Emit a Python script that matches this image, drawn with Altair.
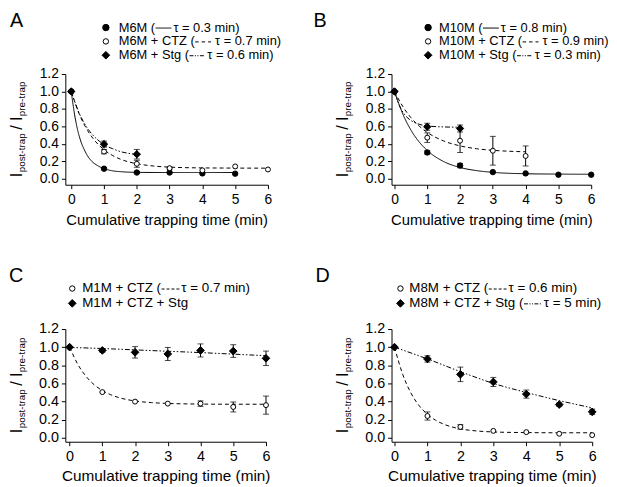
import altair as alt
import pandas as pd

FONT = "Liberation Sans"

# ---------------- Panel A ----------------
A_labels = ["M6M", "M6M + CTZ", "M6M + Stg"]
A_pt_x = [[0, 1, 2, 3, 4, 5], [0, 1, 2, 3, 4, 5, 6], [0, 1, 2]]
A_pt_y = [[1.0, 0.114, 0.07, 0.07, 0.06, 0.057], [1.0, 0.31, 0.17, 0.12, 0.095, 0.14, 0.105], [1.0, 0.396, 0.28]]
A_pt_e = [[0, 0.01, 0.01, 0, 0, 0], [0, 0.025, 0.04, 0.01, 0, 0, 0], [0, 0.035, 0.055]]
A_fit_x = [[0, 0.1, 0.2, 0.3, 0.4, 0.5, 0.6, 0.8, 1, 1.25, 1.5, 2, 3, 4, 5],
           [0, 0.25, 0.5, 0.75, 1, 1.25, 1.5, 2, 2.5, 3, 4, 5, 6],
           [0, 0.25, 0.5, 0.75, 1, 1.25, 1.5, 1.75, 2]]
A_fit_y = [[1.0, 0.74, 0.55, 0.42, 0.33, 0.26, 0.21, 0.15, 0.115, 0.09, 0.08, 0.072, 0.07, 0.07, 0.07],
           [1.0, 0.736, 0.551, 0.422, 0.331, 0.268, 0.223, 0.171, 0.145, 0.132, 0.123, 0.121, 0.12],
           [1.0, 0.745, 0.575, 0.465, 0.39, 0.345, 0.31, 0.29, 0.278]]
A_tau = ["τ = 0.3 min)", "τ = 0.7 min)", "τ = 0.6 min)"]

# ---------------- Panel B ----------------
B_labels = ["M10M", "M10M + CTZ", "M10M + Stg"]
B_pt_x = [[0, 1, 2, 3, 4, 5, 6], [0, 1, 2, 3, 4], [0, 1, 2]]
B_pt_y = [[1.0, 0.30, 0.15, 0.075, 0.06, 0.045, 0.045], [1.0, 0.47, 0.435, 0.32, 0.26], [1.0, 0.595, 0.575]]
B_pt_e = [[0, 0.02, 0.025, 0, 0, 0, 0], [0, 0.055, 0.135, 0.165, 0.115], [0, 0.04, 0.04]]
B_fit_x = [[0, 0.25, 0.5, 0.75, 1, 1.5, 2, 2.5, 3, 4, 5, 6],
           [0, 0.25, 0.5, 0.75, 1, 1.5, 2, 2.5, 3, 3.5, 4],
           [0, 0.1, 0.2, 0.3, 0.5, 0.75, 1, 1.5, 2]]
B_fit_y = [[1.0, 0.745, 0.558, 0.422, 0.323, 0.196, 0.128, 0.092, 0.072, 0.056, 0.052, 0.05],
           [1.0, 0.83, 0.70, 0.604, 0.53, 0.432, 0.376, 0.343, 0.325, 0.314, 0.308],
           [1.0, 0.884, 0.80, 0.74, 0.667, 0.624, 0.605, 0.593, 0.59]]
B_tau = ["τ = 0.8 min)", "τ = 0.9 min)", "τ = 0.3 min)"]

# ---------------- Panel C ----------------
C_labels = ["M1M + CTZ", "M1M + CTZ + Stg"]
C_pt_x = [[0, 1, 2, 3, 4, 5, 6], [0, 1, 2, 3, 4, 5, 6]]
C_pt_y = [[1.0, 0.504, 0.399, 0.377, 0.377, 0.34, 0.36], [1.0, 0.964, 0.943, 0.925, 0.964, 0.957, 0.877]]
C_pt_e = [[0, 0, 0, 0, 0.03, 0.055, 0.1], [0, 0.02, 0.063, 0.072, 0.072, 0.07, 0.08]]
C_fit_x = [[0, 0.25, 0.5, 0.75, 1, 1.25, 1.5, 2, 2.5, 3, 4, 5, 6], [0, 1, 2, 3, 4, 5, 6]]
C_fit_y = [[1.0, 0.811, 0.679, 0.586, 0.521, 0.476, 0.444, 0.406, 0.388, 0.379, 0.372, 0.37, 0.37],
           [0.997, 0.985, 0.97, 0.955, 0.94, 0.923, 0.906]]
C_tau = ["τ = 0.7 min)", None]

# ---------------- Panel D ----------------
D_labels = ["M8M + CTZ", "M8M + CTZ + Stg"]
D_pt_x = [[0, 1, 2, 3, 4, 5, 6], [0, 1, 2, 3, 4, 5, 6]]
D_pt_y = [[1.0, 0.24, 0.12, 0.076, 0.062, 0.044, 0.029], [1.0, 0.87, 0.70, 0.616, 0.482, 0.366, 0.286]]
D_pt_e = [[0, 0.045, 0.025, 0, 0, 0, 0], [0, 0.035, 0.08, 0.05, 0.045, 0.02, 0.03]]
D_fit_x = [[0, 0.25, 0.5, 0.75, 1, 1.25, 1.5, 2, 2.5, 3, 4, 5, 6], [0, 1, 2, 3, 4, 5, 6]]
D_fit_y = [[1.0, 0.699, 0.493, 0.353, 0.258, 0.193, 0.149, 0.098, 0.075, 0.064, 0.057, 0.055, 0.055],
           [1.0, 0.87, 0.73, 0.60, 0.50, 0.41, 0.33]]
D_tau = ["τ = 0.6 min)", "τ = 5 min)"]

X_TICKS = [0, 1, 2, 3, 4, 5, 6]
Y_TICKS = [0.0, 0.2, 0.4, 0.6, 0.8, 1.0, 1.2]
X_TITLE = "Cumulative trapping time (min)"

SOLID = [1, 0]
DASH = [4, 3]
DDOT = [5, 2, 1.5, 2, 1.5, 2]
L_DASH3 = [3.5, 3]
L_DASH4 = [3, 2]
L_DDOT = [4, 1.5, 1, 1.5, 1, 1.5]

# Arial / Liberation Sans advance widths (em)
W = {" ": 0.278, "(": 0.333, ")": 0.333, "+": 0.584, "=": 0.584, ".": 0.278, "M": 0.833,
     "C": 0.722, "T": 0.611, "Z": 0.611, "S": 0.667, "t": 0.278, "g": 0.556}


def tw(s, fs):
    return sum(W.get(c, 0.556) for c in s) * fs


def panel(letter, labels, shapes, fills, sizes, dashes, pt_x, pt_y, pt_e, fit_x, fit_y,
          xmin, ymin, width, height, letter_x, tick_font, title_font,
          taus, leg_dash, leg_sizes, sx, tx, rows, leg_font, sample_len, tau_gap):
    pts = pd.DataFrame([
        {"series": labels[i], "x": x, "y": y, "lo": y - e, "hi": y + e, "e": e, "sz": sizes[i]}
        for i in range(len(labels))
        for x, y, e in zip(pt_x[i], pt_y[i], pt_e[i])
    ])
    fits = pd.DataFrame([
        {"series": labels[i], "x": x, "y": y}
        for i in range(len(labels))
        for x, y in zip(fit_x[i], fit_y[i])
    ])
    xs = alt.Scale(domain=[xmin, 6], nice=False, zero=False)
    ys = alt.Scale(domain=[ymin, 1.2], nice=False, zero=False)
    xax = alt.Axis(values=X_TICKS, tickCount=len(X_TICKS), title=X_TITLE, labelFontSize=tick_font,
                   titleFontSize=title_font, labelPadding=4, titlePadding=6, tickSize=4,
                   labelFlush=False, labelOverlap=False)
    yax = alt.Axis(values=Y_TICKS, tickCount=len(Y_TICKS), format=".1f", title=None,
                   labelFontSize=tick_font, labelPadding=3, tickSize=4, labelFlush=False,
                   labelOverlap=False)
    X = alt.X("x:Q", scale=xs, axis=xax)
    Y = alt.Y("y:Q", scale=ys, axis=yax)

    lines = alt.Chart(fits).mark_line(color="black", strokeWidth=1, interpolate="monotone").encode(
        x=X, y=Y,
        strokeDash=alt.StrokeDash("series:N", scale=alt.Scale(domain=labels, range=dashes), legend=None),
        detail="series:N",
    )
    err = alt.Chart(pts).transform_filter("datum.e > 0").mark_errorbar(
        ticks=True, size=6, thickness=1, color="black"
    ).encode(
        x=X,
        y=alt.Y("lo:Q", scale=ys, axis=yax),
        y2="hi:Q",
    )
    points = alt.Chart(pts).mark_point(opacity=1, fillOpacity=1, stroke="black", strokeWidth=1).encode(
        x=X, y=Y,
        shape=alt.Shape("series:N", scale=alt.Scale(domain=labels, range=shapes), legend=None),
        fill=alt.Fill("series:N", scale=alt.Scale(domain=labels, range=fills), legend=None),
        size=alt.Size("sz:Q", scale=None),
    )

    one = pd.DataFrame({"k": [0]})
    extra = []
    extra.append(alt.Chart(one).mark_text(
        text=letter, font=FONT, fontSize=20, align="left", baseline="alphabetic", color="black"
    ).encode(x=alt.value(letter_x), y=alt.value(-48)))

    # y-axis title: I_post-trap / I_pre-trap with subscripts
    pieces = [("I", 16, -44), ("post-trap", 10, -41), ("/ I", 16, -44), ("pre-trap", 10, -41)]
    widths = [0.278 * 16 + 0.5, 3.946 * 10 + 3.5, 0.834 * 16 + 0.5, 3.501 * 10]
    y0 = height / 2 + sum(widths) / 2
    cum = 0
    for (txt, fs, bx), w in zip(pieces, widths):
        extra.append(alt.Chart(one).mark_text(
            text=txt, font=FONT, fontSize=fs, angle=270, align="left",
            baseline="alphabetic", color="black"
        ).encode(x=alt.value(bx), y=alt.value(y0 - cum)))
        cum += w

    # legend: symbol, label, inline line sample, time constant
    for i, lab in enumerate(labels):
        ry = rows[i]
        extra.append(alt.Chart(one).mark_point(
            shape=shapes[i], fill=fills[i], stroke="black", strokeWidth=1, opacity=1,
            fillOpacity=1, size=leg_sizes[i]
        ).encode(x=alt.value(sx), y=alt.value(ry)))
        if taus[i] is None:
            extra.append(alt.Chart(one).mark_text(
                text=lab, font=FONT, fontSize=leg_font, align="left", baseline="middle", color="black"
            ).encode(x=alt.value(tx), y=alt.value(ry)))
            continue
        t1 = lab + " ("
        extra.append(alt.Chart(one).mark_text(
            text=t1, font=FONT, fontSize=leg_font, align="left", baseline="middle", color="black"
        ).encode(x=alt.value(tx), y=alt.value(ry)))
        s0 = tx + tw(t1, leg_font) + 0.5
        s1 = s0 + sample_len
        extra.append(alt.Chart(one).mark_rule(
            color="black", strokeWidth=1, strokeDash=leg_dash[i]
        ).encode(x=alt.value(s0), x2=alt.value(s1), y=alt.value(ry + 0.5)))
        extra.append(alt.Chart(one).mark_text(
            text=taus[i], font=FONT, fontSize=leg_font, align="left", baseline="middle", color="black"
        ).encode(x=alt.value(s1 + tau_gap[i]), y=alt.value(ry)))

    return alt.layer(lines, err, points, *extra).properties(width=width, height=height)


A = panel("A", A_labels, ["circle", "circle", "diamond"], ["black", "white", "black"], [30, 25, 55],
          [SOLID, DASH, DDOT], A_pt_x, A_pt_y, A_pt_e, A_fit_x, A_fit_y,
          -0.18, -0.07, 205, 112, -56, 14, 15,
          A_tau, [SOLID, L_DASH3, L_DDOT], [42, 30, 60], 41, 54, [-47, -33, -19], 13, 16, [2, 4, 2])
B = panel("B", B_labels, ["circle", "circle", "diamond"], ["black", "white", "black"], [30, 25, 55],
          [SOLID, DASH, DDOT], B_pt_x, B_pt_y, B_pt_e, B_fit_x, B_fit_y,
          -0.09, -0.07, 202, 112, -79, 14, 15,
          B_tau, [SOLID, L_DASH3, L_DDOT], [42, 30, 60], 37, 48, [-47, -33, -19], 13, 16, [2, 4, 2])
C = panel("C", C_labels, ["circle", "diamond"], ["white", "black"], [25, 60],
          [DASH, DDOT], C_pt_x, C_pt_y, C_pt_e, C_fit_x, C_fit_y,
          -0.13, -0.044, 203, 114, -57, 14.5, 15.5,
          C_tau, [L_DASH4, None], [30, 60], 7, 17, [-41, -26], 13.5, 18, [2, 2])
D = panel("D", D_labels, ["circle", "diamond"], ["white", "black"], [25, 60],
          [DASH, DDOT], D_pt_x, D_pt_y, D_pt_e, D_fit_x, D_fit_y,
          -0.09, -0.044, 203, 114, -77, 14.5, 15.5,
          D_tau, [L_DASH4, L_DDOT], [30, 60], 9, 18, [-41, -26], 13.5, 18, [2, 2])

indep = dict(shape="independent", fill="independent", strokeDash="independent")
chart = alt.concat(A, B, C, D, columns=2, spacing={"row": 146, "column": 125},
                   bounds="flush", align="each").resolve_scale(**indep).properties(
    padding={"left": 0, "top": 0, "right": 0, "bottom": 0}
).configure_view(stroke=None).configure_axis(
    domainColor="black", tickColor="black", labelColor="black", titleColor="black",
    labelFont=FONT, titleFont=FONT, grid=False, titleFontWeight="normal", domainWidth=1, tickWidth=1
).configure_text(font=FONT)

chart.save("out.html", embed_options={"renderer": "svg", "actions": False})
